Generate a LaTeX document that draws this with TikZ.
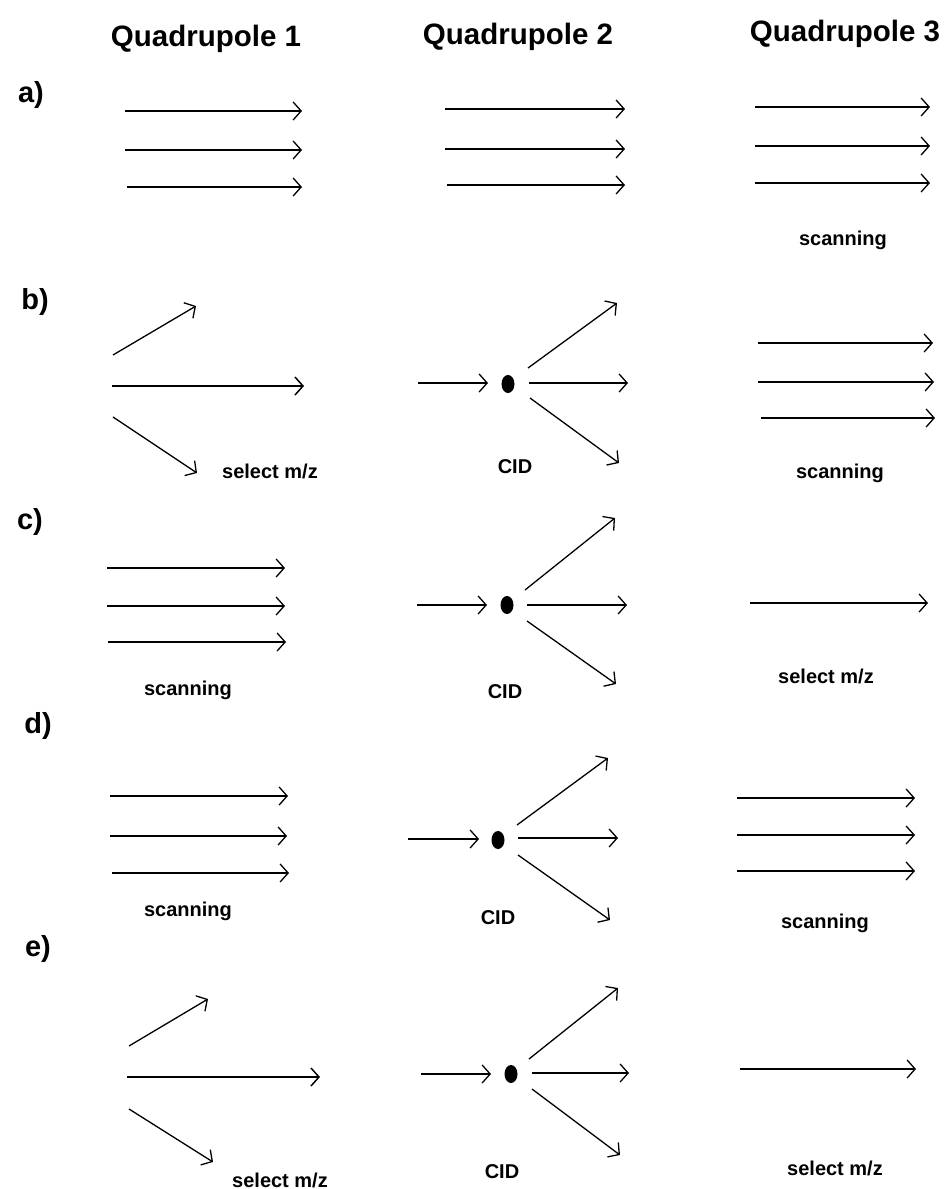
\documentclass[tikz,border=0pt]{standalone}
\usepackage{fontspec}
\setmainfont{Liberation Sans}
\usetikzlibrary{arrows.meta}
\begin{document}
\begin{tikzpicture}[x=1pt,y=-1pt,
  arr/.style={line width=1.3pt, -{Straight Barb[length=8pt,width=18pt]}},
  tarr/.style={line width=2.2pt, -{Straight Barb[length=8pt,width=18pt,line width=1.5pt]}},
  head/.style={font=\fontsize{29.5}{32}\selectfont\bfseries, anchor=base, inner sep=0pt},
  rowlbl/.style={font=\fontsize{29}{31}\selectfont\bfseries, anchor=base, inner sep=0pt},
  lbl/.style={font=\fontsize{20}{22}\selectfont\bfseries, inner sep=0pt},
  ion/.style={fill=black}]
\useasboundingbox[fill=white] (0,0) rectangle (943,1189);
% headers
\node[head] (h1) at (206,46) {Quadrupole 1};
\node[head] (h2) at (518,44) {Quadrupole 2};
\node[head] (h3) at (845,41) {Quadrupole 3};
% row labels
\node[rowlbl] (ra) at (31,102) {a)};
\node[rowlbl] (rb) at (35,309) {b)};
\node[rowlbl] (rc) at (30,529) {c)};
\node[rowlbl] (rd) at (38,733) {d)};
\node[rowlbl] (re) at (38,956) {e)};
% ---- row a
\draw[arr] (125,111) -- (302,111);
\draw[arr] (125,150) -- (302,150);
\draw[arr] (127,187) -- (302,187);
\draw[arr] (445,109) -- (625,109);
\draw[arr] (445,149) -- (625,149);
\draw[arr] (447,185) -- (625,185);
\draw[arr] (755,107) -- (930,107);
\draw[arr] (755,146) -- (930,146);
\draw[arr] (755,183) -- (930,183);
\node[lbl] (la3) at (843,240) {scanning};
% ---- row b
\draw[arr] (113,355) -- (196,306);
\draw[tarr] (112,386) -- (304,386);
\draw[arr] (113,417) -- (197,473);
\node[lbl] (lb1) at (270,471) {select m/z};
\draw[arr] (418,383) -- (488,383);
\fill[ion] (508,384) ellipse [x radius=6.5, y radius=9];
\draw[arr] (528,368) -- (617,303);
\draw[arr] (529,383) -- (628,383);
\draw[arr] (530,398) -- (619,463);
\node[lbl] (lb2) at (515,467) {CID};
\draw[arr] (758,343) -- (933,343);
\draw[arr] (758,382) -- (934,382);
\draw[arr] (761,418) -- (935,418);
\node[lbl] (lb3) at (840,473) {scanning};
% ---- row c
\draw[arr] (107,568) -- (285,568);
\draw[arr] (107,606) -- (285,606);
\draw[arr] (108,642) -- (286,642);
\node[lbl] (lc1) at (188,690) {scanning};
\draw[arr] (417,605) -- (487,605);
\fill[ion] (507,605) ellipse [x radius=6.5, y radius=9];
\draw[arr] (525,590) -- (615,518);
\draw[arr] (527,605) -- (627,605);
\draw[arr] (527,621) -- (616,684);
\node[lbl] (lc2) at (505,692) {CID};
\draw[arr] (750,603) -- (928,603);
\node[lbl] (lc3) at (826,676) {select m/z};
% ---- row d
\draw[arr] (110,796) -- (288,796);
\draw[arr] (110,836) -- (287,836);
\draw[arr] (112,873) -- (289,873);
\node[lbl] (ld1) at (188,911) {scanning};
\draw[arr] (408,839) -- (479,839);
\fill[ion] (498,840) ellipse [x radius=6.5, y radius=9];
\draw[arr] (517,825) -- (608,758);
\draw[arr] (518,838) -- (618,838);
\draw[arr] (518,855) -- (610,920);
\node[lbl] (ld2) at (498,918) {CID};
\draw[arr] (737,798) -- (915,798);
\draw[arr] (737,835) -- (915,835);
\draw[arr] (737,871) -- (915,871);
\node[lbl] (ld3) at (825,923) {scanning};
% ---- row e
\draw[arr] (129,1046) -- (208,999);
\draw[tarr] (127,1077) -- (320,1077);
\draw[arr] (129,1109) -- (213,1162);
\node[lbl] (le1) at (280,1180) {select m/z};
\draw[arr] (421,1074) -- (491,1074);
\fill[ion] (511,1074) ellipse [x radius=6.5, y radius=9];
\draw[arr] (529,1059) -- (618,988);
\draw[arr] (532,1073) -- (629,1073);
\draw[arr] (532,1089) -- (620,1155);
\node[lbl] (le2) at (502,1172) {CID};
\draw[arr] (740,1069) -- (916,1069);
\node[lbl] (le3) at (835,1168) {select m/z};
\end{tikzpicture}
\end{document}
